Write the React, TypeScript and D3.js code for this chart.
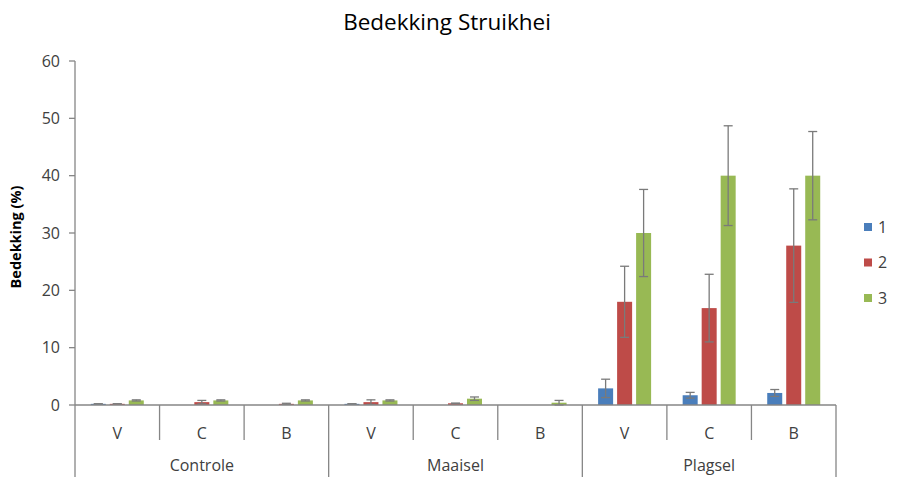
import React from "react";
import * as d3 from "d3";

const groups: string[] = ["Controle", "Maaisel", "Plagsel"];
const treatments: string[] = ["V", "C", "B"];
const series: string[] = ["1", "2", "3"];
const seriesColors: string[] = ["#4a7ebb", "#be4b48", "#98b954"];

// values per category (group x treatment), one array per series
const values1: number[] = [0.2, 0, 0, 0.2, 0, 0, 2.9, 1.7, 2.1];
const values2: number[] = [0.2, 0.5, 0.2, 0.5, 0.3, 0, 18.0, 16.9, 27.8];
const values3: number[] = [0.8, 0.8, 0.8, 0.8, 1.1, 0.4, 30.0, 40.0, 40.0];
const errors1: number[] = [0, 0, 0, 0, 0, 0, 1.6, 0.5, 0.6];
const errors2: number[] = [0, 0.3, 0.1, 0.4, 0, 0, 6.2, 5.9, 9.9];
const errors3: number[] = [0.1, 0.1, 0.1, 0.1, 0.3, 0.4, 7.6, 8.7, 7.7];
const yTicks: number[] = [0, 10, 20, 30, 40, 50, 60];

const font = "'Open Sans', 'Noto Sans', sans-serif";
const axisColor = "#868686";
const textColor = "#404040";

export default function App(): React.ReactElement {
  const width = 902;
  const height = 477;
  const left = 75;
  const right = 836;
  const top = 61;
  const bottom = 405;

  const categories = groups.flatMap((g) => treatments.map((t) => `${g}|${t}`));
  const x0 = d3.scaleBand<string>().domain(categories).range([left, right]).padding(0);
  const x1 = d3.scaleBand<string>().domain(series).range([-26.5, 26.5]).paddingInner(0.21);
  const y = d3.scaleLinear().domain([0, 60]).range([bottom, top]);

  const allValues = [values1, values2, values3];
  const allErrors = [errors1, errors2, errors3];
  const groupWidth = (right - left) / groups.length;

  return (
    <svg width={width} height={height} style={{position: "absolute", left: 0, top: 0, background: "#fff"}}>
      <text x={447} y={30} textAnchor="middle" fontFamily={font} fontSize={22.5} fill="#000">Bedekking Struikhei</text>

      {/* y axis */}
      <line x1={left} x2={left} y1={top} y2={bottom} stroke={axisColor} strokeWidth={1.3} />
      {yTicks.map((t) => (
        <g key={t}>
          <line x1={left - 6} x2={left} y1={y(t)} y2={y(t)} stroke={axisColor} strokeWidth={1.3} />
          <text x={left - 15} y={y(t)} dy="0.35em" textAnchor="end" fontFamily={font} fontSize={16} fill={textColor}>{t}</text>
        </g>
      ))}
      <text transform={`translate(21,${(top + bottom) / 2 + 4}) rotate(-90)`} textAnchor="middle" fontFamily={font} fontSize={14.5} fontWeight="bold" fill="#000">Bedekking (%)</text>

      {/* bars */}
      {series.map((s, si) => (
        <g key={s}>
          {categories.map((c, ci) => {
            const v = allValues[si][ci];
            const e = allErrors[si][ci];
            const cx = (x0(c) as number) + x0.bandwidth() / 2 + (x1(s) as number);
            const mid = cx + x1.bandwidth() / 2;
            return (
              <g key={c}>
                {v > 0 && (
                  <rect x={cx} y={y(v)} width={x1.bandwidth()} height={bottom - y(v)} fill={seriesColors[si]} />
                )}
                {v > 0 && (
                  <g stroke="#7a7a7a" strokeWidth={1.3}>
                    <line x1={mid} x2={mid} y1={y(v + e)} y2={y(Math.max(0, v - e))} />
                    <line x1={mid - 4.5} x2={mid + 4.5} y1={y(v + e)} y2={y(v + e)} />
                    <line x1={mid - 4.5} x2={mid + 4.5} y1={y(Math.max(0, v - e))} y2={y(Math.max(0, v - e))} />
                  </g>
                )}
              </g>
            );
          })}
        </g>
      ))}

      {/* category axis */}
      <line x1={left} x2={right} y1={bottom} y2={bottom} stroke={axisColor} strokeWidth={1.3} />
      {categories.map((c, ci) => {
        const xs = x0(c) as number;
        const isGroupStart = ci % treatments.length === 0;
        return (
          <g key={c}>
            <line x1={xs} x2={xs} y1={bottom} y2={isGroupStart ? height : 440} stroke={axisColor} strokeWidth={1.3} />
            <text x={xs + x0.bandwidth() / 2} y={439} textAnchor="middle" fontFamily={font} fontSize={16} fill={textColor}>{c.split("|")[1]}</text>
          </g>
        );
      })}
      <line x1={right} x2={right} y1={bottom} y2={height} stroke={axisColor} strokeWidth={1.3} />
      {groups.map((g, gi) => (
        <text key={g} x={left + groupWidth * gi + groupWidth / 2} y={471} textAnchor="middle" fontFamily={font} fontSize={16} fill={textColor}>{g}</text>
      ))}

      {/* legend */}
      {series.map((s, si) => (
        <g key={s} transform={`translate(864,${227 + si * 35.5})`}>
          <rect x={0} y={-4} width={8} height={8} fill={seriesColors[si]} />
          <text x={14} y={0} dy="0.35em" fontFamily={font} fontSize={16} fill={textColor}>{s}</text>
        </g>
      ))}
    </svg>
  );
}
